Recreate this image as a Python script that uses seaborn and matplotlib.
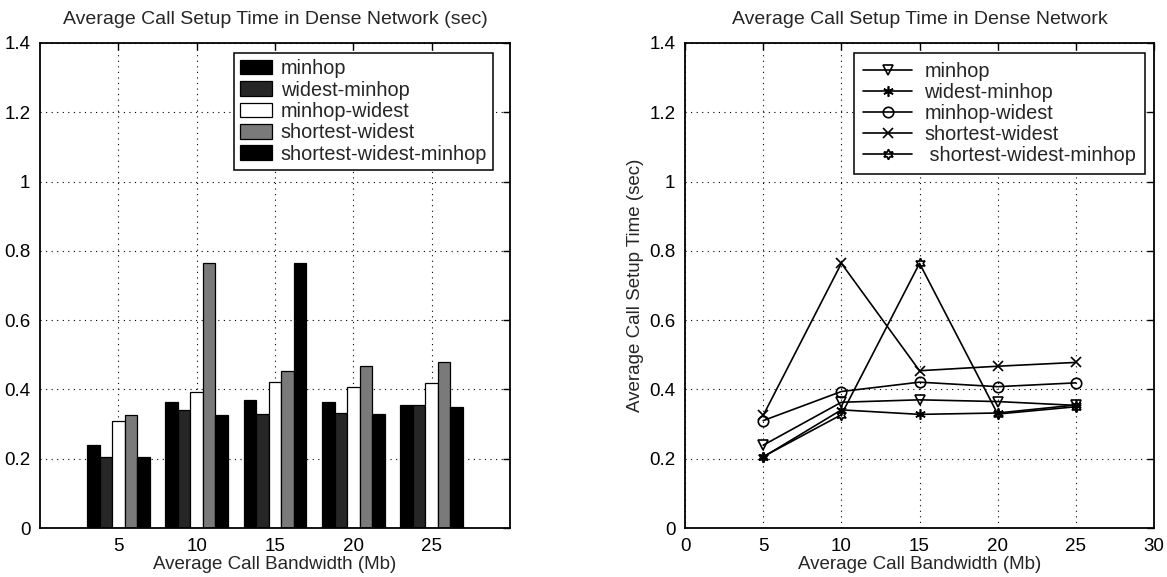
import numpy as np
import pandas as pd
import matplotlib
matplotlib.use("Agg")
import matplotlib.pyplot as plt
import seaborn as sns

# Average call bandwidth (Mb)
bandwidth = [5, 10, 15, 20, 25]

# Average call setup time (sec) per routing scheme
minhop = [0.239, 0.363, 0.370, 0.365, 0.354]
widest_minhop = [0.205, 0.341, 0.328, 0.332, 0.355]
minhop_widest = [0.310, 0.394, 0.421, 0.408, 0.419]
shortest_widest = [0.325, 0.764, 0.454, 0.467, 0.478]
shortest_widest_minhop = [0.206, 0.327, 0.764, 0.329, 0.350]

schemes = ["minhop", "widest-minhop", "minhop-widest",
           "shortest-widest", "shortest-widest-minhop"]
line_labels = ["minhop", "widest-minhop", "minhop-widest",
               "shortest-widest", " shortest-widest-minhop"]
series = [minhop, widest_minhop, minhop_widest,
          shortest_widest, shortest_widest_minhop]

bar_colors = ["#000000", "#262626", "#ffffff", "#7a7a7a", "#000000"]
line_markers = ["v", (6, 2, 0), "o", "x", (6, 1, 0)]

ylabels = ["0", "0.2", "0.4", "0.6", "0.8", "1", "1.2", "1.4"]
yticks = [0, 0.2, 0.4, 0.6, 0.8, 1.0, 1.2, 1.4]

df = pd.DataFrame({
    "bandwidth": bandwidth * len(schemes),
    "scheme": [s for s in schemes for _ in bandwidth],
    "time": [v for vals in series for v in vals],
})

sns.set_theme(style="white")
plt.rcParams["font.family"] = ["Liberation Sans", "DejaVu Sans"]
plt.rcParams["font.size"] = 12

TITLE_FS = 14
LABEL_FS = 13.5
LEGEND_FS = 14.3

fig = plt.figure(figsize=(11.67, 5.77), dpi=100)
ax1 = fig.add_axes([0.0343, 0.0849, 0.4027, 0.8406])
ax2 = fig.add_axes([0.587, 0.0849, 0.4019, 0.8406])

# Grouped bars
sns.barplot(data=df, x="bandwidth", y="time", hue="scheme",
            hue_order=schemes, palette=bar_colors, width=0.8,
            edgecolor="black", linewidth=0.9, saturation=1,
            ax=ax1, legend=True)
ax1.set_xlim(-1, 5)
ax1.set_ylim(0, 1.4)
ax1.set_xticks(range(len(bandwidth)))
ax1.set_xticklabels([str(b) for b in bandwidth])
ax1.set_title("Average Call Setup Time in Dense Network (sec)",
              fontsize=TITLE_FS, pad=14)
ax1.set_xlabel("Average Call Bandwidth (Mb)", fontsize=LABEL_FS, labelpad=1)
ax1.set_ylabel("")
leg1 = ax1.legend(loc="upper right", bbox_to_anchor=(0.964, 0.979),
                  frameon=True, fancybox=False, framealpha=1,
                  edgecolor="black", fontsize=LEGEND_FS, handlelength=1.6,
                  handleheight=0.75, labelspacing=0.12, borderpad=0.3,
                  handletextpad=0.45, borderaxespad=0)
leg1.get_frame().set_linewidth(1.1)

# Line chart
for name, vals, mk in zip(line_labels, series, line_markers):
    filled = mk == (6, 2, 0)
    sns.lineplot(x=bandwidth, y=vals, ax=ax2, color="black", linewidth=1.2,
                 marker=mk, markersize=7.5 if mk != "x" else 6.5,
                 markerfacecolor="black" if filled else "none",
                 markeredgecolor="black", markeredgewidth=1.2,
                 label=name)
ax2.set_xlim(0, 30)
ax2.set_ylim(0, 1.4)
ax2.set_xticks([0, 5, 10, 15, 20, 25, 30])
ax2.set_title("Average Call Setup Time in Dense Network",
              fontsize=TITLE_FS, pad=14)
ax2.set_xlabel("Average Call Bandwidth (Mb)", fontsize=LABEL_FS, labelpad=1)
ax2.set_ylabel("Average Call Setup Time (sec)", fontsize=LABEL_FS, labelpad=4)
leg2 = ax2.legend(loc="upper right", bbox_to_anchor=(0.981, 0.979),
                  frameon=True, fancybox=False, framealpha=1,
                  edgecolor="black", fontsize=LEGEND_FS, handlelength=2.5,
                  labelspacing=0.1, borderpad=0.45, handletextpad=0.6,
                  borderaxespad=0)
leg2.get_frame().set_linewidth(1.1)

for ax in (ax1, ax2):
    ax.set_yticks(yticks)
    ax.set_yticklabels(ylabels)
    ax.grid(True, linestyle=(0, (1, 4)), color="black", linewidth=0.8)
    ax.set_axisbelow(True)
    for sp in ax.spines.values():
        sp.set_visible(True)
        sp.set_color("black")
        sp.set_linewidth(1.3)
    ax.tick_params(direction="in", length=5, width=1, top=True, right=True,
                   labelsize=13.5, colors="black", pad=7)

fig.savefig("out.png", dpi=100, facecolor="white")
